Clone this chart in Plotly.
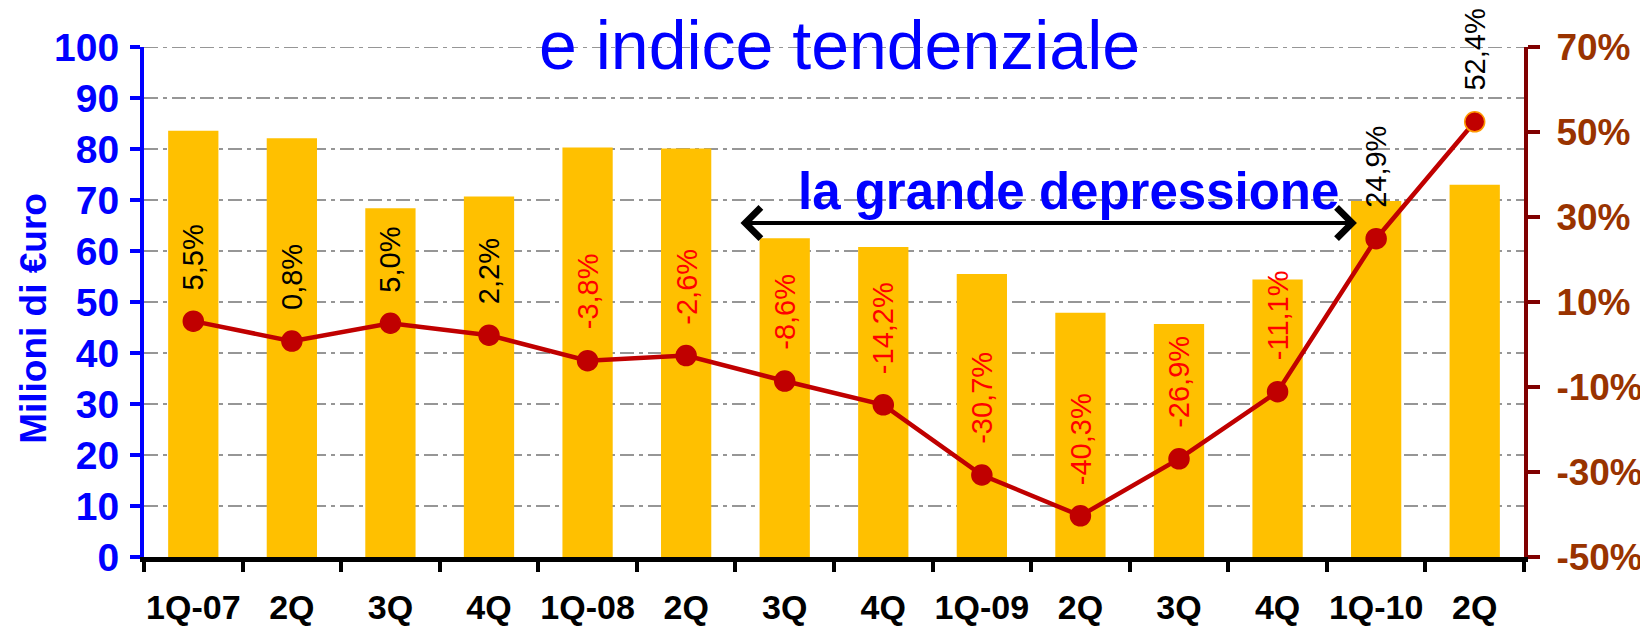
"""
Vendite trimestrali (milioni di euro) e indice tendenziale 2007-2010
barre = valore, linea = variazione % sullo stesso trimestre dell'anno prima
"""

import plotly.graph_objects as go

# ── dati ─────────────────────────────────────────────────────────────
QUARTER_IDS = ["1Q-07", "2Q-07", "3Q-07", "4Q-07",
               "1Q-08", "2Q-08", "3Q-08", "4Q-08",
               "1Q-09", "2Q-09", "3Q-09", "4Q-09",
               "1Q-10", "2Q-10"]
TICK_LABELS = ["1Q-07", "2Q", "3Q", "4Q", "1Q-08", "2Q", "3Q", "4Q",
               "1Q-09", "2Q", "3Q", "4Q", "1Q-10", "2Q"]
VALUES_MEUR = [83.6, 82.1, 68.4, 70.7, 80.3, 80.1, 62.5, 60.8,
               55.5, 47.9, 45.7, 54.4, 69.8, 73.0]
TREND_PCT   = [5.5, 0.8, 5.0, 2.2, -3.8, -2.6, -8.6, -14.2,
               -30.7, -40.3, -26.9, -11.1, 24.9, 52.4]
PCT_TICKS   = [-50, -30, -10, 10, 30, 50, 70]

# ── stile ────────────────────────────────────────────────────────────
FONT      = "Liberation Sans, Arial, sans-serif"
BLUE      = "#0000FF"
BAR_COLOR = "#FFC000"
LINE_RED  = "#C00000"
AX2_COLOR = "#800000"
AX2_TEXT  = "#993300"
GRID      = "#969696"
GRID_DASH = "14px,5px,4px,5px"


def pct_label(v):
    return f"{v:.1f}".replace(".", ",") + "%"


fig = go.Figure()

fig.add_trace(go.Bar(
    x=QUARTER_IDS, y=VALUES_MEUR,
    marker=dict(color=BAR_COLOR, line=dict(width=0)),
    showlegend=False,
))

marker_edges = [LINE_RED] * (len(TREND_PCT) - 1) + ["#FF9900"]
fig.add_trace(go.Scatter(
    x=QUARTER_IDS, y=TREND_PCT, yaxis="y2",
    mode="lines+markers",
    line=dict(color=LINE_RED, width=4.5),
    marker=dict(color=LINE_RED, size=20, line=dict(color=marker_edges, width=1.5)),
    showlegend=False,
))

# etichette ruotate sopra i punti
for qid, v in zip(QUARTER_IDS, TREND_PCT):
    fig.add_annotation(
        x=qid, y=v, xref="x", yref="y2",
        text=pct_label(v), showarrow=False,
        textangle=-90, xanchor="center", yanchor="bottom", yshift=29,
        font=dict(family=FONT, size=29, color="#FF0000" if v < 0 else "#000000"),
    )

# titolo (seconda riga visibile)
fig.add_annotation(
    x=0.504, y=1.003, xref="paper", yref="paper",
    text="e indice tendenziale", showarrow=False,
    xanchor="center", yanchor="middle",
    font=dict(family=FONT, size=68, color=BLUE),
)

# la grande depressione + freccia doppia
fig.add_annotation(
    x=0.670, y=0.716, xref="paper", yref="paper",
    text="<b>la grande depressione</b>", showarrow=False,
    xanchor="center", yanchor="middle",
    font=dict(family=FONT, size=51, color=BLUE),
)
fig.add_annotation(
    x=11.805, y=65.5, xref="x", yref="y",
    ax=5.536, ay=65.5, axref="x", ayref="y",
    text="", showarrow=True,
    arrowhead=4, startarrowhead=4, arrowside="end+start",
    arrowsize=1.5, startarrowsize=1.5, arrowwidth=4, arrowcolor="#000000",
)

# titolo asse sinistro
fig.add_annotation(
    x=-0.0797, y=0.467, xref="paper", yref="paper",
    text="<b>Milioni di €uro</b>", showarrow=False,
    textangle=-90, xanchor="center", yanchor="middle",
    font=dict(family=FONT, size=37, color=BLUE),
)

# griglia anche sul bordo superiore (a 100)
fig.add_shape(
    type="line", xref="paper", yref="y", x0=0, x1=1, y0=100, y1=100,
    line=dict(color=GRID, width=2, dash=GRID_DASH), layer="below",
)

# ── layout ───────────────────────────────────────────────────────────
# la pagina ha 8px di margine nel body: figura 1634x622
fig.update_layout(
    width=1634, height=622,
    margin=dict(l=136, r=118, t=39, b=73),
    paper_bgcolor="#FFFFFF",
    plot_bgcolor="#FFFFFF",
    bargap=0.49,
    font=dict(family=FONT),
    xaxis=dict(
        type="category",
        range=[-0.5, len(QUARTER_IDS) - 0.5],
        tickmode="array", tickvals=QUARTER_IDS, ticktext=TICK_LABELS,
        tickson="boundaries", tickangle=0,
        showline=True, linecolor="#000000", linewidth=5,
        ticks="outside", ticklen=10, tickwidth=4, tickcolor="#000000",
        tickfont=dict(family=FONT, size=34, color="#000000", weight="bold"),
        ticklabelstandoff=16,
        showgrid=False, zeroline=False, automargin=False,
    ),
    yaxis=dict(
        range=[0, 100], dtick=10,
        showline=True, linecolor=BLUE, linewidth=4,
        ticks="outside", ticklen=10, tickwidth=4, tickcolor=BLUE,
        tickfont=dict(family=FONT, size=39, color=BLUE, weight="bold"),
        ticklabelstandoff=3,
        showgrid=True, gridcolor=GRID, gridwidth=2, griddash=GRID_DASH,
        zeroline=False, automargin=False,
    ),
    yaxis2=dict(
        overlaying="y", side="right",
        range=[-50, 70],
        tickmode="array", tickvals=PCT_TICKS,
        ticktext=[f"{t}%" for t in PCT_TICKS],
        showline=True, linecolor=AX2_COLOR, linewidth=4,
        ticks="outside", ticklen=12, tickwidth=4, tickcolor=AX2_COLOR,
        tickfont=dict(family=FONT, size=37, color=AX2_TEXT, weight="bold"),
        ticklabelstandoff=9,
        showgrid=False, zeroline=False, automargin=False,
    ),
)

fig.write_html("out.html")
